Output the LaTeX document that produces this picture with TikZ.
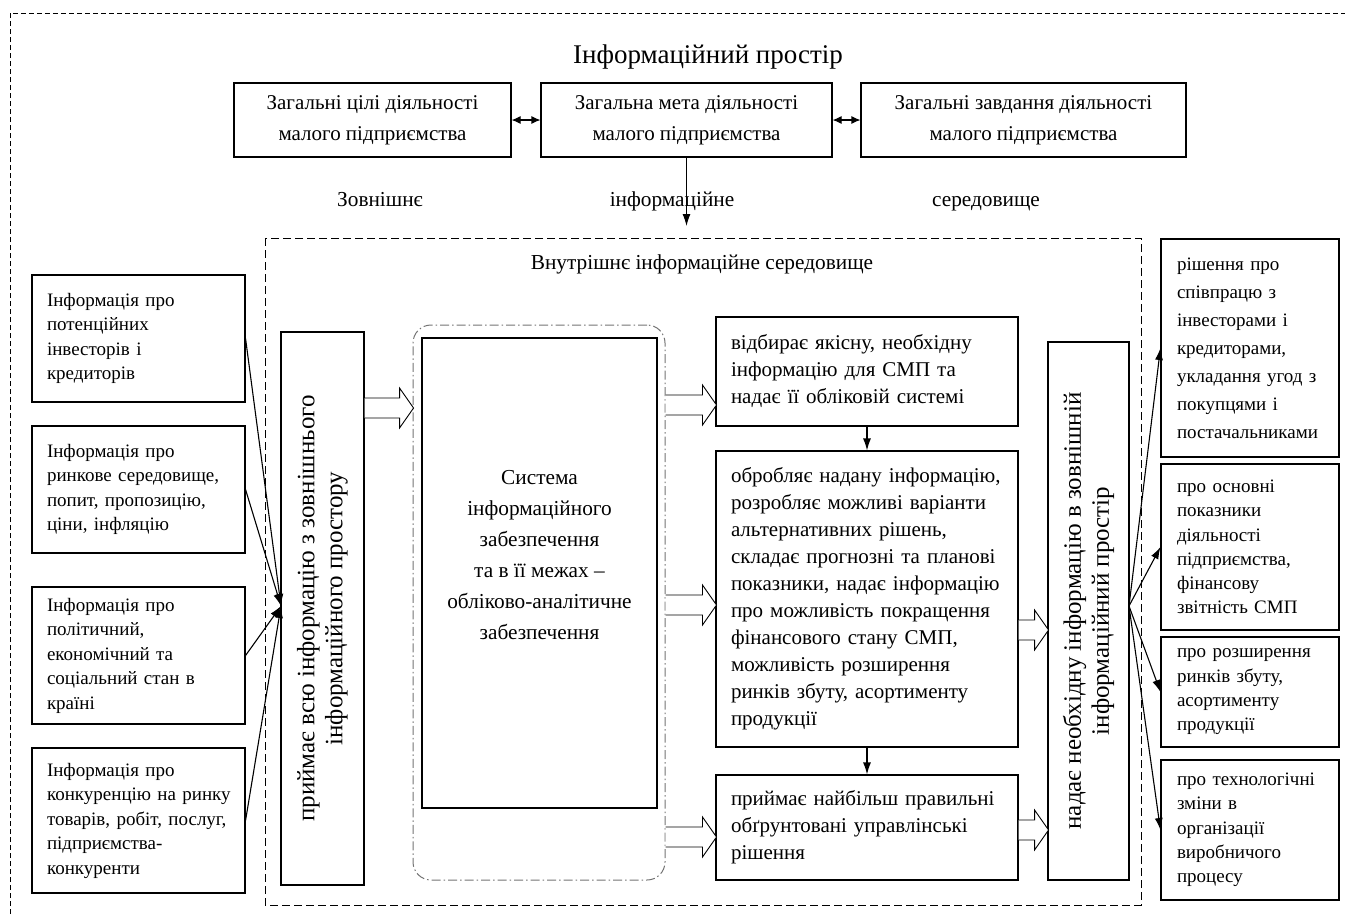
\documentclass[tikz,border=0pt]{standalone}
\usepackage{fontspec}
\setmainfont{Liberation Serif}
\usetikzlibrary{arrows.meta,calc}
\tikzset{
  box/.style={draw, line width=1.1pt, inner ysep=0pt, inner xsep=15pt, align=left},
  lbox/.style={box, text width=183pt, font=\fontsize{19}{24.5}\selectfont},
  rbox/.style={box, text width=272pt, font=\fontsize{21}{27}\selectfont},
  fbox/.style={box, inner xsep=16pt, text width=146pt, font=\fontsize{19}{24.3}\selectfont},
  tbox/.style={box, align=center, minimum height=74pt, font=\fontsize{21}{31}\selectfont},
  vbox/.style={draw, line width=1.1pt, inner sep=0pt},
  vtext/.style={rotate=90, align=center, font=\fontsize{25}{28}\selectfont},
  lbl/.style={font=\fontsize{21.3}{24}\selectfont, anchor=base},
  arr/.style={line width=1.1pt, -{Latex[length=12pt,width=8pt]}},
  darr/.style={line width=1.1pt, {Latex[length=9pt,width=8pt]}-{Latex[length=9pt,width=8pt]}},
  hollow/.style={line width=0.9pt, fill=white},
  outerdash/.style={line width=1pt, dash pattern=on 5pt off 3pt},
  innerdash/.style={line width=1pt, dash pattern=on 8pt off 4pt},
}
\newcommand{\hollowarrow}[2]{%
  \draw[hollow] (#1) ++(0,-10) -- ++({#2-14},0) -- ++(0,-10) -- ++(14,20) -- ++(-14,20) -- ++(0,-10) -- ++({-(#2-14)},0);}
\begin{document}
\begin{tikzpicture}[x=1pt,y=-1pt]
\useasboundingbox (0,0) rectangle (1345,914);
\draw[outerdash] (10,914) -- (10,13) -- (1345,13);
\node[font=\fontsize{27}{30}\selectfont, anchor=base] (title) at (708,63) {Інформаційний простір};
% top boxes
\node[tbox, minimum width=277pt] (T1) at (372.5,120) {Загальні цілі діяльності\\малого підприємства};
\node[tbox, minimum width=291pt] (T2) at (686.5,120) {Загальна мета діяльності\\малого підприємства};
\node[tbox, minimum width=325pt] (T3) at (1023.5,120) {Загальні завдання діяльності\\малого підприємства};
\draw[darr] (T1.east) -- (T2.west);
\draw[darr] (T2.east) -- (T3.west);
\node[lbl] (ext1) at (380,206) {Зовнішнє};
\node[lbl] (ext2) at (672,206) {інформаційне};
\node[lbl] (ext3) at (986,206) {середовище};
\coordinate (topin) at (686.5,226);
\draw[arr] (T2.south) -- (topin);
% inner environment
\draw[innerdash] (265,238) rectangle (1141,905);
\node[lbl] (inner) at (702,269) {Внутрішнє інформаційне середовище};
% left boxes
\node[lbox, minimum height=127pt] (L1) at (138.5,338.5) {Інформація про\\потенційних\\інвесторів і\\кредиторів};
\node[lbox, minimum height=127pt] (L2) at (138.5,489.5) {Інформація про\\\mbox{ринкове середовище,}\\попит, пропозицію,\\ціни, інфляцію};
\node[lbox, minimum height=137pt] (L3) at (138.5,655.5) {Інформація про\\політичний,\\економічний та\\соціальний стан в\\країні};
\node[lbox, minimum height=145pt] (L4) at (138.5,820.5) {Інформація про\\\mbox{конкуренцію на ринку}\\\mbox{товарів, робіт, послуг,}\\підприємства-\\конкуренти};
% vertical box 1
\node[vbox, minimum width=83pt, minimum height=553pt] (V1) at (322.5,608.5) {};
\node[vtext] (V1t) at (V1.center) {приймає всю інформацію з зовнішнього\\інформаційного простору};
\coordinate (pin) at (281,606);
\foreach \n in {L1,L2,L3,L4} \draw[arr] (\n.east) -- (pin);
% dash-dot and system
\node[draw=black!55, line width=1pt, dash pattern=on 9pt off 3pt on 1.5pt off 3pt, rounded corners=18pt,
      minimum width=252pt, minimum height=555pt, inner sep=0pt] (D) at (539,602.5) {};
\node[vbox, minimum width=235pt, minimum height=470pt] (S) at (539.5,573) {};
\node[align=center, font=\fontsize{21.3}{31}\selectfont] (St) at (539.5,555) {Система\\інформаційного\\забезпечення\\та в її межах –\\обліково-аналітичне\\забезпечення};
\hollowarrow{V1.east |- 0,408}{49}
% right-middle boxes
\node[rbox, minimum height=109pt] (R1) at (867,371.5) {відбирає якісну, необхідну\\інформацію для СМП та\\надає її обліковій системі};
\node[rbox, minimum height=296pt] (R2) at (867,599) {\mbox{обробляє надану інформацію,}\\розробляє можливі варіанти\\альтернативних рішень,\\\mbox{складає прогнозні та планові}\\\mbox{показники, надає інформацію}\\про можливість покращення\\фінансового стану СМП,\\можливість розширення\\ринків збуту, асортименту\\продукції};
\node[rbox, minimum height=105pt] (R3) at (867,827.5) {приймає найбільш правильні\\обґрунтовані управлінські\\рішення};
\draw[arr] (R1.south) -- (R2.north);
\draw[arr] (R2.south) -- (R3.north);
\hollowarrow{D.east |- 0,405}{51}
\hollowarrow{D.east |- 0,605}{51}
\hollowarrow{D.east |- 0,837}{51}
% vertical box 2
\node[vbox, minimum width=81pt, minimum height=538pt] (V2) at (1088.5,611) {};
\node[vtext] (V2t) at (V2.center) {надає необхідну інформацію в зовнішній\\інформаційний простір};
\hollowarrow{R2.east |- 0,630}{30}
\hollowarrow{R3.east |- 0,830}{30}
% far right boxes
\node[fbox, minimum height=218pt, font=\fontsize{19}{28}\selectfont] (F1) at (1250,348) {рішення про\\співпрацю з\\інвесторами і\\кредиторами,\\укладання угод з\\покупцями і\\\mbox{постачальниками}};
\node[fbox, minimum height=166pt] (F2) at (1250,547) {про основні\\показники\\діяльності\\підприємства,\\фінансову\\звітність СМП};
\node[fbox, minimum height=110pt] (F3) at (1250,692) {про розширення\\ринків збуту,\\асортименту\\продукції};
\node[fbox, minimum height=140pt] (F4) at (1250,830) {про технологічні\\зміни в\\організації\\виробничого\\процесу};
\coordinate (pout) at (1129,606);
\foreach \n in {F1,F2,F3,F4} \draw[arr] (pout) -- (\n.west);
\end{tikzpicture}
\end{document}
